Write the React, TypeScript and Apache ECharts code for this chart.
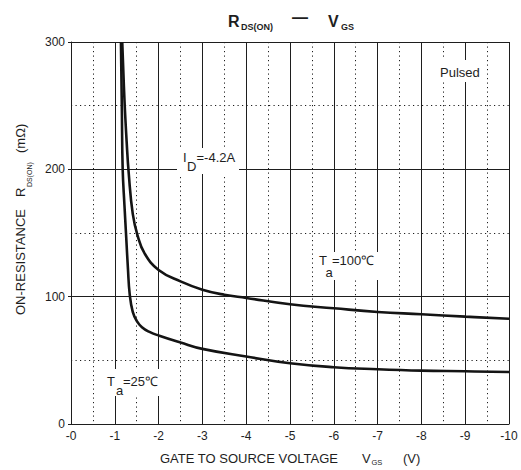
import React, { useEffect, useRef } from "react";
import * as echarts from "echarts";

// ---- data ----
const xTickValues = [0, 1, 2, 3, 4, 5, 6, 7, 8, 9, 10];
const yTickValues = [0, 100, 200, 300];

// Ta = 25 C curve (|VGS| in V, RDS(ON) in mOhm)
const vgs25 = [1.14, 1.16, 1.18, 1.22, 1.26, 1.3, 1.34, 1.41, 1.5, 1.62, 1.78, 2, 2.5, 3, 4, 5, 6, 7, 8, 9, 10];
const r25 = [300, 250, 200, 172, 147, 122, 102, 88, 81, 76, 72.5, 69.5, 64, 59, 53, 47.7, 44.6, 43, 41.9, 41.4, 40.8];

// Ta = 100 C curve
const vgs100 = [1.17, 1.22, 1.27, 1.32, 1.41, 1.52, 1.68, 2, 2.5, 3, 3.5, 4, 5, 6, 7, 8, 9, 10];
const r100 = [300, 255, 222, 196, 165, 148, 134, 121, 112, 105.5, 101.5, 99, 94, 90.9, 88, 86.2, 84.3, 82.7];

const FONT = "'Liberation Sans', Arial, Helvetica, sans-serif";
const INK = "#1e1e1e";

let measureCtx: CanvasRenderingContext2D | null = null;
function measure(t: string, size: number, bold?: boolean): number {
  if (!measureCtx) measureCtx = document.createElement("canvas").getContext("2d");
  if (!measureCtx) return t.length * size * 0.6;
  measureCtx.font = `${bold ? "bold " : ""}${size}px ${FONT}`;
  return measureCtx.measureText(t).width;
}

function txt(text: string, x: number, y: number, size: number, bold = false, z = 10): any {
  return {
    type: "text",
    x,
    y,
    z,
    style: {
      text,
      fill: INK,
      fontSize: size,
      fontFamily: FONT,
      fontWeight: bold ? "bold" : "normal",
      align: "left",
      verticalAlign: "middle",
    },
  };
}

export default function App() {
  const ref = useRef<HTMLDivElement>(null);

  useEffect(() => {
    if (!ref.current) return;
    const chart = echarts.init(ref.current, undefined, { renderer: "svg" });

    const yNameChildren = [
      txt("ON-RESISTANCE", 0, 0, 13),
      txt("R", 118, 0, 13),
      txt("DS(ON)", 118 + measure("R", 13) + 0.5, 9, 7),
      txt("(mΩ)", 162, 0, 13),
    ];

    const lineSeries = (name: string, xs: number[], ys: number[]) => ({
      name,
      type: "line",
      data: xs.map((v, i) => [v, ys[i]]),
      smooth: 0.45,
      showSymbol: false,
      symbol: "none",
      lineStyle: { color: "#141414", width: 2.6 },
      z: 5,
    });

    const option: any = {
      animation: false,
      backgroundColor: "#ffffff",
      grid: { left: 71, right: 12, top: 42, bottom: 46, containLabel: false },
      xAxis: {
        type: "value",
        min: 0,
        max: 10,
        interval: 1,
        axisLine: { show: true, lineStyle: { color: INK, width: 1 } },
        axisTick: { show: false },
        axisLabel: {
          color: INK,
          fontSize: 12,
          fontFamily: FONT,
          margin: 6,
          formatter: (v: number) => (xTickValues.includes(v) ? "-" + v : ""),
        },
        splitLine: { show: true, lineStyle: { color: INK, width: 1, type: "solid" } },
        minorTick: { show: false, splitNumber: 2 },
        minorSplitLine: { show: true, lineStyle: { color: INK, width: 1, type: [1.2, 3.3] } },
      },
      yAxis: {
        type: "value",
        min: 0,
        max: 300,
        interval: 100,
        axisLine: { show: true, lineStyle: { color: INK, width: 1 } },
        axisTick: { show: true, length: 3, lineStyle: { color: INK } },
        axisLabel: {
          color: INK,
          fontSize: 12,
          fontFamily: FONT,
          margin: 6,
          formatter: (v: number) => (yTickValues.includes(v) ? String(v) : ""),
        },
        splitLine: { show: true, lineStyle: { color: INK, width: 1, type: "solid" } },
        minorTick: { show: false, splitNumber: 2 },
        minorSplitLine: { show: true, lineStyle: { color: INK, width: 1, type: [1.2, 3.3] } },
      },
      series: [lineSeries("Ta=25", vgs25, r25), lineSeries("Ta=100", vgs100, r100)],
      graphic: [
        // title
        txt("R", 228, 21, 16, true),
        txt("DS(ON)", 241, 26.5, 9, true),
        txt("—", 292, 17, 16, true),
        txt("V", 328, 21, 16, true),
        txt("GS", 341, 26.5, 9, true),
        // x axis name
        txt("GATE TO SOURCE VOLTAGE", 160, 458, 13),
        txt("V", 362, 458, 13),
        txt("GS", 371.5, 462.5, 7.5),
        txt("(V)", 403, 458, 13),
        // y axis name (rotated)
        { type: "group", x: 20, y: 315, rotation: Math.PI / 2, children: yNameChildren },
        // annotations with white backgrounds
        { type: "rect", z: 1, shape: { x: 177, y: 148, width: 62, height: 26 }, style: { fill: "#fff" } },
        txt("I", 183, 157, 13),
        txt("D", 187, 166.5, 13),
        txt("=-4.2A", 196.5, 157, 13),
        { type: "rect", z: 1, shape: { x: 314, y: 252, width: 64, height: 28 }, style: { fill: "#fff" } },
        txt("T", 319, 260, 13),
        txt("a", 325.5, 272, 13),
        txt("=100℃", 332, 260, 13),
        { type: "rect", z: 1, shape: { x: 105, y: 369, width: 57, height: 27 }, style: { fill: "#fff" } },
        txt("T", 107, 381, 13),
        txt("a", 116, 390, 13),
        txt("=25℃", 123, 381, 13),
        { type: "rect", z: 1, shape: { x: 437, y: 60, width: 48, height: 22 }, style: { fill: "#fff" } },
        txt("Pulsed", 440, 72, 13),
      ],
    };

    chart.setOption(option);
    return () => chart.dispose();
  }, []);

  return (
    <div
      ref={ref}
      style={{ position: "fixed", left: 0, top: 0, width: 521, height: 470, background: "#fff" }}
    />
  );
}
